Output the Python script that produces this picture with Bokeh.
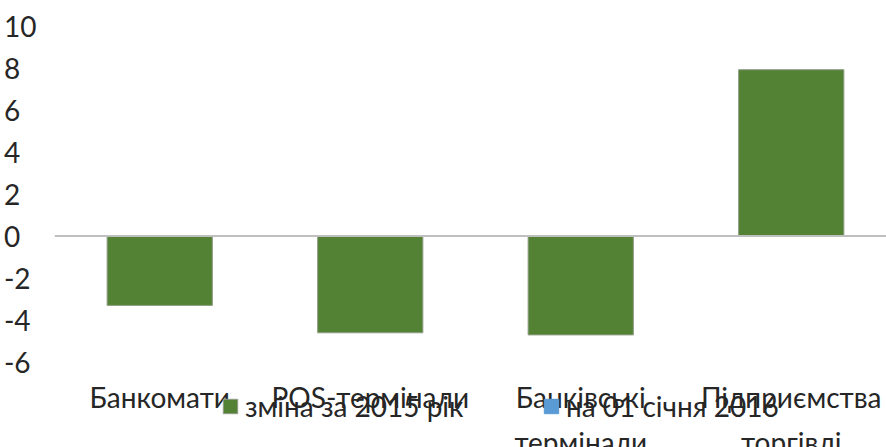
from bokeh.plotting import figure
from bokeh.models import (ColumnDataSource, Range1d, FixedTicker, Span, Legend, LegendItem)
from bokeh.core.properties import value
from bokeh.embed import file_html
from bokeh.resources import INLINE

categories = ["Банкомати", "POS-термінали", "Банківські\nтермінали", "Підприємства\nторгівлі"]
change_2015 = [-3.3, -4.6, -4.7, 7.9]
jan_2016 = [None, None, None, None]   # no visible bars for this series in the chart
series_names = ["зміна за 2015 рік", "на 01 січня 2016"]
series_colors = ["#548235", "#5B9BD5"]
y_ticks = [-6, -4, -2, 0, 2, 4, 6, 8, 10]

FONT = "Lato"
FS = "28px"
TXT = "#262626"

positions = [i + 0.5 for i in range(len(categories))]
line1 = [c.split("\n")[0] for c in categories]
line2 = [c.split("\n")[1] if "\n" in c else "" for c in categories]

src = ColumnDataSource(dict(x=positions, top=change_2015))
src2 = ColumnDataSource(dict(x=positions, top=jan_2016))
lab_src = ColumnDataSource(dict(x=positions, y=[y_ticks[0]] * len(categories),
                                l1=line1, l2=line2))

p = figure(width=886, height=447, output_backend="svg", toolbar_location=None,
           x_range=Range1d(0, 3.9525), y_range=Range1d(-10.05, 10),
           min_border_left=54, min_border_right=0, min_border_top=25,
           min_border_bottom=0)
p.outline_line_color = None
p.xgrid.visible = False
p.ygrid.visible = False
p.xaxis.visible = False

r1 = p.vbar(x="x", top="top", bottom=0, width=0.5, source=src,
            fill_color=series_colors[0], line_color="#8f9c86", line_width=1)
r2 = p.vbar(x="x", top="top", bottom=0, width=0.5, source=src2,
            fill_color=series_colors[1], line_color=series_colors[1])

p.add_layout(Span(location=0, dimension="width", line_color="#BFBFBF", line_width=2))

# category labels (two lines, second line partly below the visible area)
p.text(x="x", y="y", text="l1", source=lab_src, y_offset=35,
       text_align="center", text_baseline="alphabetic",
       text_font=value(FONT), text_font_size=FS, text_color=TXT)
p.text(x="x", y="y", text="l2", source=lab_src, y_offset=80,
       text_align="center", text_baseline="alphabetic",
       text_font=value(FONT), text_font_size=FS, text_color=TXT)

# y axis: left-aligned look via figure-space padding
def ylab(t):
    s = str(t)
    if len(s) == 1:
        return s + "\u2007"
    if s.startswith("-"):
        return s + "\u2008"
    return s

p.yaxis.ticker = FixedTicker(ticks=y_ticks)
p.yaxis.major_label_overrides = {t: ylab(t) for t in y_ticks}
p.yaxis.axis_line_color = None
p.yaxis.major_tick_line_color = None
p.yaxis.minor_tick_line_color = None
p.yaxis.major_label_standoff = 12
p.yaxis.major_label_text_font = FONT
p.yaxis.major_label_text_font_size = FS
p.yaxis.major_label_text_color = TXT

legend = Legend(items=[LegendItem(label=series_names[0], renderers=[r1]),
                       LegendItem(label=series_names[1], renderers=[r2])],
                location=(167, 24), orientation="horizontal",
                glyph_width=18, glyph_height=18, label_standoff=6,
                label_width=297, label_height=18, spacing=0,
                padding=0, margin=0, border_line_color=None,
                background_fill_alpha=0,
                label_text_font=FONT, label_text_font_size=FS,
                label_text_color=TXT)
p.add_layout(legend, "center")

open("out.html", "w").write(file_html(p, INLINE))
